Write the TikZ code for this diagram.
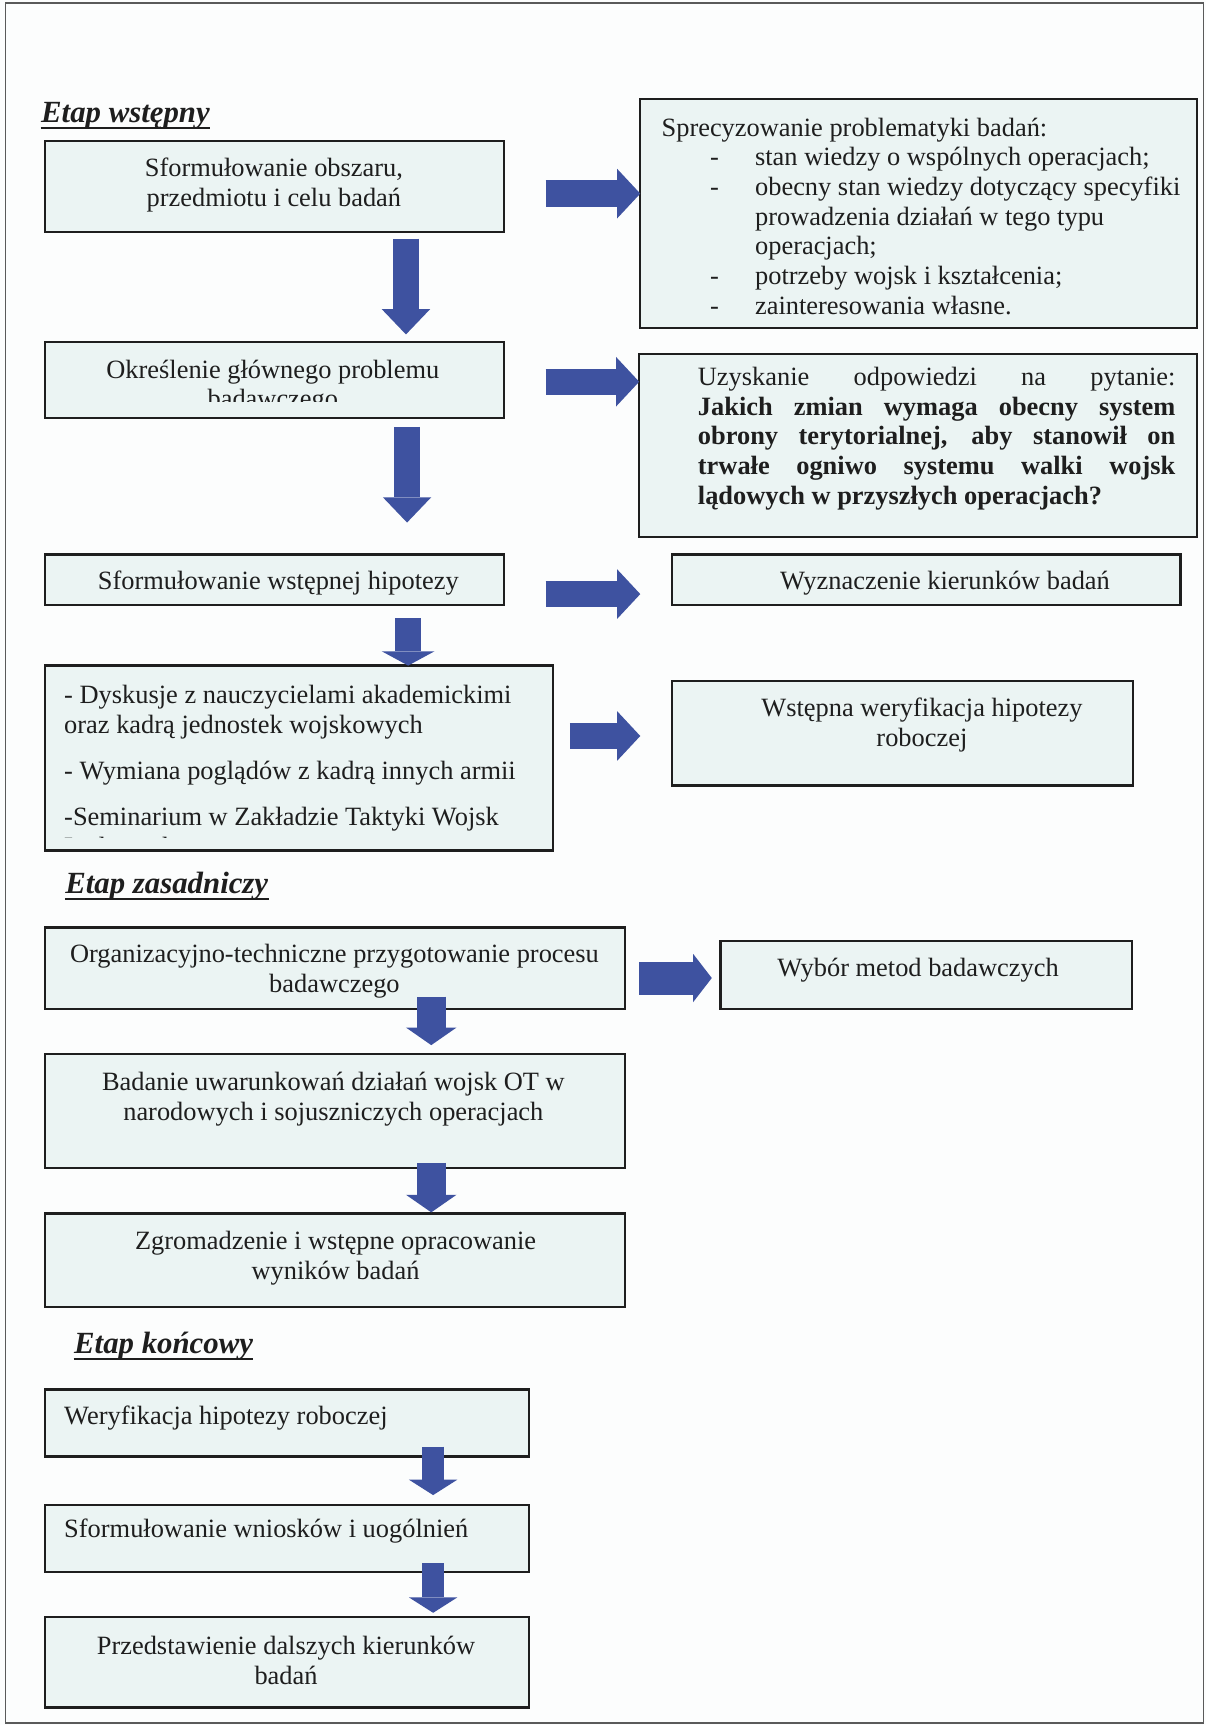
\documentclass[tikz,border=0pt]{standalone}
\usepackage{fontspec}
\setmainfont{Liberation Serif}
\usetikzlibrary{arrows.meta,calc,fit}
\hyphenpenalty=10000
\exhyphenpenalty=10000
\definecolor{paper}{HTML}{FCFDFD}
\definecolor{boxfill}{HTML}{EBF4F3}
\definecolor{ink}{HTML}{1E1E1E}
\definecolor{framegray}{HTML}{5A5A5A}
\definecolor{arrowblue}{HTML}{3E52A0}
% dash and indent for the items of the list
\newcommand\listdash{\hspace*{22pt}\makebox[20.5pt][l]{-}}
\newcommand\listcont{\hspace*{42.5pt}}
\begin{document}
\begin{tikzpicture}[x=0.5pt,y=-0.5pt,
  box/.style={draw=ink,line width=1pt,fill=boxfill,inner sep=0pt,outer sep=0pt},
  txt/.style={text=ink,inner sep=0pt,font=\fontsize{12}{13.5}\selectfont,align=center,yshift=-1pt},
  ltxt/.style={txt,align=left},
  stage/.style={text=ink,inner sep=0pt,font=\fontsize{14}{16}\selectfont\bfseries\itshape,anchor=base west},
  uline/.style={draw=ink,line width=1pt},
  fatarrow/.style n args={3}{draw=arrowblue,line width=#1,line cap=butt,
     -{Triangle[width=#2,length=#3,line width=0pt]}},
]
\fill[paper] (0,0) rectangle (1096,1568);
\useasboundingbox (0,0) rectangle (1096,1568);
\draw[framegray,line width=0.8pt] (5,3) rectangle (1094,1566);

% ---------------- stage 1 ----------------
\node[stage] (S1) at (37,111) {Etap wstępny};
\draw[uline] ($(S1.base west)+(0,5)$) -- ($(S1.base east)+(0,5)$);

\node[box,fit={(41,128)(458,211)}] (A1) {};
\node[txt] (A1t) at (249,166) {Sformułowanie obszaru,\\przedmiotu i celu badań};

\node[box,fit={(582,90)(1088,298)}] (B1) {};
\node[ltxt,anchor=west] (B1t) at (601,194.5) {Sprecyzowanie problematyki badań:\\
\listdash stan wiedzy o wspólnych operacjach;\\
\listdash obecny stan wiedzy dotyczący specyfiki\\
\listcont prowadzenia działań w tego typu\\
\listcont operacjach;\\
\listdash potrzeby wojsk i kształcenia;\\
\listdash zainteresowania własne.};

% the text frame cuts its second line off
\node[box,fit={(41,311)(458,380)}] (A2) {};
\begin{scope}
  \clip (42,312) rectangle (457,365);
  \node[txt] (A2t) at (248,349.5) {Określenie głównego problemu\\badawczego};
\end{scope}

\node[box,fit={(581,322)(1088,488)}] (B2) {};
\node[txt,text width=217pt,align=justify,anchor=west,yshift=-0.5pt] (B2t) at (634,395.5)
  {Uzyskanie\hfill odpowiedzi\hfill na\hfill pytanie:\\
   \textbf{Jakich zmian wymaga obecny system obrony terytorialnej, aby stanowił on trwałe ogniwo systemu walki wojsk lądowych w przyszłych operacjach?}};

\node[box,fit={(41,504)(458,550)}] (A3) {};
\node[txt] (A3t) at (253,528) {Sformułowanie wstępnej hipotezy};

\node[box,fit={(611,504)(1073,550)}] (B3) {};
\node[txt] (B3t) at (859,528) {Wyznaczenie kierunków badań};

% the text frame cuts its last line off
\node[box,fit={(41,605)(503,773)}] (A4) {};
\begin{scope}
  \clip (42,606) rectangle (502,761);
  \node[ltxt,anchor=north west] (A4t) at (58,620.5) {- Dyskusje z nauczycielami akademickimi\\
  oraz kadrą jednostek wojskowych\\[7.5pt]
  - Wymiana poglądów z kadrą innych armii\\[7.5pt]
  -Seminarium w Zakładzie Taktyki Wojsk\\
  Lądowych};
\end{scope}

\node[box,fit={(611,619)(1030,714)}] (B4) {};
\node[txt] (B4t) at (838,657) {Wstępna weryfikacja hipotezy\\roboczej};

% ---------------- stage 2 ----------------
\node[stage] (S2) at (59,812) {Etap zasadniczy};
\draw[uline] ($(S2.base west)+(0,5)$) -- ($(S2.base east)+(0,5)$);

\node[box,fit={(41,843)(568,917)}] (C1) {};
\node[txt] (C1t) at (304,880.5) {Organizacyjno-techniczne przygotowanie procesu\\badawczego};

\node[box,fit={(655,855)(1029,917)}] (W1) {};
\node[txt] (W1t) at (834.5,880) {Wybór metod badawczych};

\node[box,fit={(41,958)(568,1062)}] (C2) {};
\node[txt] (C2t) at (303,997) {Badanie uwarunkowań działań wojsk OT w\\narodowych i sojuszniczych operacjach};

\node[box,fit={(41,1103)(568,1188)}] (C3) {};
\node[txt] (C3t) at (305,1141.5) {Zgromadzenie i wstępne opracowanie\\wyników badań};

% ---------------- stage 3 ----------------
\node[stage] (S3) at (67,1230) {Etap końcowy};
\draw[uline] ($(S3.base west)+(0,5)$) -- ($(S3.base east)+(0,5)$);

\node[box,fit={(41,1263)(481,1324)}] (D1) {};
\node[txt,anchor=west] (D1t) at (58,1287) {Weryfikacja hipotezy roboczej};

\node[box,fit={(41,1368)(481,1429)}] (D2) {};
\node[txt,anchor=west] (D2t) at (58,1390) {Sformułowanie wniosków i uogólnień};

\node[box,fit={(41,1470)(481,1552)}] (D3) {};
\node[txt] (D3t) at (260,1507.5) {Przedstawienie dalszych kierunków\\badań};

% ---------------- block arrows ----------------
\coordinate (r1) at ($(A1.east)+(38,6.5)$);
\draw[fatarrow={12pt}{22.5pt}{10.5pt}] (r1) -- (r1 -| B1.west);
\coordinate (r2) at ($(A2.east)+(38,1.5)$);
\draw[fatarrow={12pt}{22.5pt}{10.5pt}] (r2) -- (r2 -| B2.west);
\coordinate (r3) at ($(A3.east)+(38,13)$);
\draw[fatarrow={12pt}{22.5pt}{10.5pt}] (r3) -- ($(r3 -| B3.west)+(-29,0)$);
\coordinate (r4) at ($(A4.east)+(15,-20)$);
\draw[fatarrow={12pt}{22.5pt}{10.5pt}] (r4) -- ($(r4 -| B4.west)+(-29,0)$);
\coordinate (r5) at ($(C1.east)+(13,9)$);
\draw[fatarrow={15pt}{22pt}{8.5pt}] (r5) -- ($(r5 -| W1.west)+(-8,0)$);

\coordinate (d1) at ($(A1.south)+(119.5,6)$);
\draw[fatarrow={12pt}{22pt}{11.5pt}] (d1) -- ($(d1 |- A2.north)+(0,-7)$);
\coordinate (d2) at ($(A2.south)+(120.5,8)$);
\draw[fatarrow={12pt}{22pt}{11.5pt}] (d2) -- ($(d2 |- A3.north)+(0,-29)$);
\coordinate (d3) at ($(A3.south)+(121.5,12)$);
\draw[fatarrow={12pt}{24pt}{6.5pt}] (d3) -- (d3 |- A4.north);
\coordinate (d4) at ($(C1.south)+(87.5,-11)$);
\draw[fatarrow={13pt}{23pt}{8pt}] (d4) -- ($(d4 |- C2.north)+(0,-8)$);
\coordinate (d5) at ($(C2.south)+(87.5,-5)$);
\draw[fatarrow={13pt}{23pt}{8pt}] (d5) -- ($(d5 |- C3.north)+(0,-1)$);
\coordinate (d6) at ($(D1.south)+(132.7,-9)$);
\draw[fatarrow={10pt}{22pt}{7pt}] (d6) -- ($(d6 |- D2.north)+(0,-9)$);
\coordinate (d7) at ($(D2.south)+(132.7,-8)$);
\draw[fatarrow={10pt}{22pt}{7pt}] (d7) -- ($(d7 |- D3.north)+(0,-4)$);
\end{tikzpicture}
\end{document}
